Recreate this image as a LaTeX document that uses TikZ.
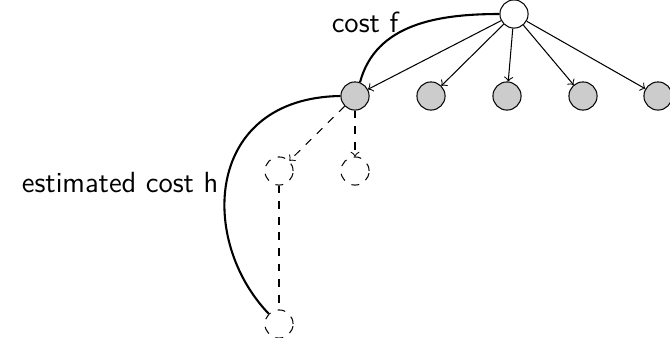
\documentclass[tikz,border=0pt]{standalone}
\usepackage{tikz}
\tikzset{every picture/.style={/utils/exec={\sffamily}}}
\tikzset{
  state/.style={circle, draw, fill=gray!40, minimum size=0.38cm, inner sep=0pt},
  rootstate/.style={circle, draw, fill=white, minimum size=0.38cm, inner sep=0pt},
  open/.style={circle, draw, dashed, minimum size=0.38cm, inner sep=0pt},
  cost/.style={thick},
  lbl/.style={font=\fontsize{11.2}{13}\selectfont}
}
\begin{document}
\begin{tikzpicture}[x=0.0135cm, y=-0.0135cm]
		\useasboundingbox (0,0) rectangle (670,337);

		\node[rootstate] (root) at (514, 14) {};

		\node[state] (c1) at (355, 96) {};
		\node[state] (c2) at (431, 96) {};
		\node[state] (c3) at (507, 96) {};
		\node[state] (c4) at (583, 96) {};
		\node[state] (c5) at (658, 96) {};

		\node[open] (d1) at (279, 171) {};
		\node[open] (d2) at (355, 171) {};
		\node[open] (d3) at (279, 324) {};

		\foreach \c in {c1, c2, c3, c4, c5}
			\draw[->] (root) -- (\c);

		\draw[->, dashed] (c1) -- (d1);
		\draw[->, dashed] (c1) -- (d2);
		\draw[dashed] (d1) -- (d3);

		% cost so far and estimate
		\draw[cost] (c1.70) to[out=75, in=180] (root.west);
		\draw[cost] (c1.west) .. controls (205, 98) and (198, 240) .. (d3.north west);

		\node[lbl] (f) at (365, 22) {cost f};
		\node[lbl] (h) at (120, 183) {estimated cost h};
	\end{tikzpicture}
\end{document}
